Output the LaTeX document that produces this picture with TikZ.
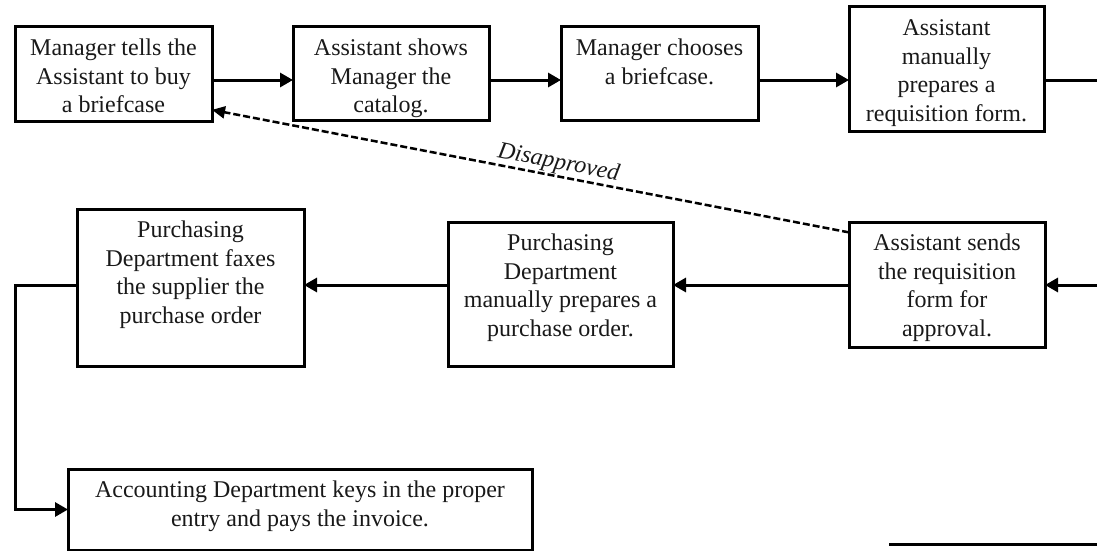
\documentclass[tikz,border=0pt]{standalone}
\usepackage{fontspec}
\setmainfont{Liberation Serif}
\usetikzlibrary{arrows.meta}
\newcommand{\boxtext}[3]{\parbox[c][#2][t]{#1}{\centering\vspace*{9pt}\strut #3\par}}
\tikzset{
  procbox/.style={draw=black, line width=3pt, inner sep=0pt, outer sep=0pt,
    text=black!90, font=\fontsize{24}{28.5}\selectfont},
  flowline/.style={draw=black, line width=3pt},
  arr/.style={flowline, -{Triangle[length=13pt,width=14pt]}},
  dasharr/.style={draw=black, line width=2.5pt, dash pattern=on 7pt off 3pt,
    -{Triangle[length=13pt,width=12pt]}},
  lbltext/.style={font=\fontsize{24}{28}\selectfont\itshape, text=black!90, inner sep=1pt}
}
\begin{document}
\begin{tikzpicture}[x=1pt,y=-1pt]
\useasboundingbox (0,0) rectangle (1097,551);
\coordinate (rowA) at (0,80);
\coordinate (rowB) at (0,285);

\node[procbox] (b1) at (113.5,74) {\boxtext{197pt}{94pt}{Manager tells the\\Assistant to buy\\a briefcase}};
\node[procbox] (b2) at (391,73.5) {\boxtext{196pt}{93pt}{Assistant shows\\Manager the\\catalog.}};
\node[procbox] (b3) at (659.5,73.5) {\boxtext{197pt}{93pt}{Manager chooses\\a briefcase.}};
\node[procbox] (b4) at (946.5,69) {\boxtext{195pt}{124pt}{Assistant\\manually\\prepares a\\requisition form.}};
\node[procbox] (b5) at (947,284.5) {\boxtext{196pt}{125pt}{Assistant sends\\the requisition\\form for\\approval.}};
\node[procbox] (b6) at (560.5,294) {\boxtext{225pt}{144pt}{Purchasing\\Department\\manually prepares a\\purchase order.}};
\node[procbox] (b7) at (190.5,287.5) {\boxtext{227pt}{157pt}{Purchasing\\Department faxes\\the supplier the\\purchase order}};
\node[procbox] (b8) at (300,509.5) {\boxtext{464pt}{81pt}{Accounting Department keys in the proper\\entry and pays the invoice.}};

\coordinate (e4) at (1097,80);
\coordinate (e5) at (1097,285);
\coordinate (k) at (15,285);
\coordinate (s1) at (889,544);
\coordinate (s2) at (1097,544);

\draw[arr] (b1.east |- rowA) -- (b2.west |- rowA);
\draw[arr] (b2.east |- rowA) -- (b3.west |- rowA);
\draw[arr] (b3.east |- rowA) -- (b4.west |- rowA);
\draw[flowline] (b4.east |- rowA) -- (e4);

\draw[arr] (e5) -- (b5.east |- rowB);
\draw[arr] (b5.west |- rowB) -- (b6.east |- rowB);
\draw[arr] (b6.west |- rowB) -- (b7.east |- rowB);
\draw[arr] (b7.west |- rowB) -- (k) |- (b8.west);

\draw[dasharr] (b5.152) -- node[lbltext, sloped, pos=0.46, above] (lbl) {Disapproved} (b1.-20);

\draw[line width=3pt] (s1) -- (s2);
\end{tikzpicture}
\end{document}
